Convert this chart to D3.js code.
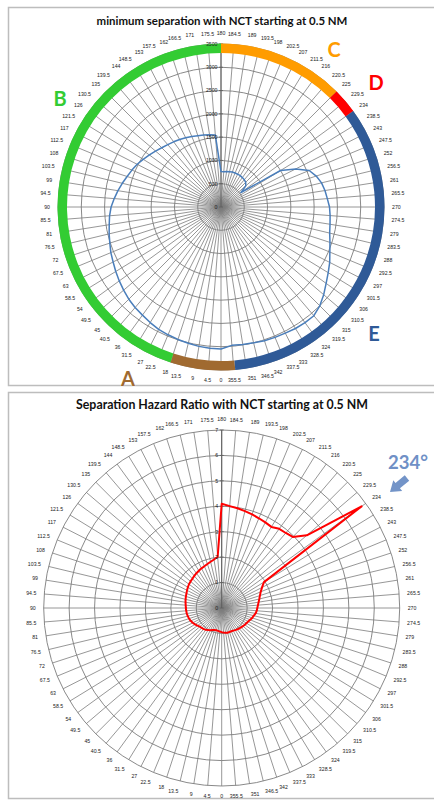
<!DOCTYPE html>
<html>
<head>
<meta charset="utf-8">
<script src="https://cdn.jsdelivr.net/npm/d3@7"></script>
<style>
  body { margin: 0; background: #ffffff; }
  svg { display: block; }
</style>
</head>
<body>
<svg id="chart" width="434" height="801"></svg>
<script>
// Relative bearing categories (degrees)
const categories = [
  0, 4.5, 9, 13.5, 18, 22.5, 27, 31.5, 36, 40.5, 45, 49.5, 54, 58.5, 63, 67.5,
  72, 76.5, 81, 85.5, 90, 94.5, 99, 103.5, 108, 112.5, 117, 121.5, 126, 130.5, 135, 139.5,
  144, 148.5, 153, 157.5, 162, 166.5, 171, 175.5, 180, 184.5, 189, 193.5, 198, 202.5, 207, 211.5,
  216, 220.5, 225, 229.5, 234, 238.5, 243, 247.5, 252, 256.5, 261, 265.5, 270, 274.5, 279, 283.5,
  288, 292.5, 297, 301.5, 306, 310.5, 315, 319.5, 324, 328.5, 333, 337.5, 342, 346.5, 351, 355.5
];

// Minimum separation (ft) per bearing
const minSeparation = [
  3050, 3040, 3030, 3010, 2990, 2970, 2950, 2910, 2870, 2840, 2800, 2750, 2700, 2650, 2600, 2560,
  2510, 2470, 2430, 2400, 2360, 2300, 2240, 2180, 2120, 2070, 2020, 1960, 1900, 1850, 1800, 1760,
  1730, 1700, 1670, 1640, 1610, 1590, 1570, 1550, 760, 760, 770, 780, 790, 790, 790, 790,
  780, 770, 750, 700, 530, 1500, 1800, 2050, 2150, 2220, 2260, 2290, 2330, 2350, 2370, 2400,
  2460, 2530, 2620, 2700, 2790, 2900, 3000, 3070, 3070, 3060, 3040, 3030, 3020, 3000, 2990, 2980
];

// Separation hazard ratio per bearing
const hazardRatio = [
  0.95, 0.93, 0.91, 0.90, 0.91, 0.94, 0.98, 1.02, 1.06, 1.09, 1.11, 1.13, 1.18, 1.23, 1.28, 1.32,
  1.35, 1.37, 1.39, 1.40, 1.41, 1.42, 1.44, 1.46, 1.48, 1.50, 1.53, 1.56, 1.59, 1.61, 1.63, 1.66,
  1.69, 1.72, 1.75, 1.78, 1.82, 1.87, 1.93, 2.02, 4.10, 4.02, 3.97, 3.92, 3.87, 3.82, 3.78, 3.74,
  3.85, 3.88, 3.95, 4.40, 6.80, 1.95, 1.78, 1.66, 1.58, 1.52, 1.47, 1.43, 1.40, 1.38, 1.35, 1.30,
  1.26, 1.21, 1.17, 1.14, 1.12, 1.10, 1.08, 1.06, 1.04, 1.02, 1.00, 0.99, 0.99, 1.00, 0.99, 0.97
];

const separationTicks = [0, 500, 1000, 1500, 2000, 2500, 3000, 3500];
const hazardTicks = [0, 1, 2, 3, 4, 5, 6, 7];

// Encounter sectors around the ring (bearing limits in degrees)
const sectorNames = ["A", "B", "C", "D", "E"];
const sectorFrom = [355, 18, 180, 225, 234];
const sectorTo = [378, 180, 225, 234, 355];

const titles = [
  "minimum separation with NCT starting at 0.5 NM",
  "Separation Hazard Ratio with NCT starting at 0.5 NM"
];
const peakLabel = "234°";

// ---- styling ----
const sectorColor = { A: "#a06a30", B: "#33cc33", C: "#ff9c00", D: "#ff0000", E: "#2f5a97" };
const letterPos = { A: [128, 379], B: [60, 99], C: [334, 50], D: [376, 83], E: [374, 334] };
const gridColor = "#7c7c7c";
const smallFont = "'Liberation Sans', Arial, sans-serif";
const titleFont = "Lato, 'Open Sans', sans-serif";

const svg = d3.select("#chart");
const fmtCat = d => Number.isInteger(d) ? String(d) : d.toFixed(1);

// panel frames
svg.append("rect").attr("x", 8.5).attr("y", 7.5).attr("width", 440).attr("height", 378)
  .attr("fill", "#fff").attr("stroke", "#bdbdbd").attr("stroke-width", 1.5);
svg.append("rect").attr("x", 8.5).attr("y", 392.5).attr("width", 440).attr("height", 406)
  .attr("fill", "#fff").attr("stroke", "#bdbdbd").attr("stroke-width", 1.5);

function fitText(sel, width) {
  const node = sel.node();
  const fs = parseFloat(sel.attr("font-size"));
  const w = node.getComputedTextLength();
  if (w > 0) sel.attr("font-size", (fs * width / w).toFixed(2));
  return sel;
}

function radar(opt) {
  const g = svg.append("g").attr("transform", `translate(${opt.cx},${opt.cy})`);
  const ang = d3.scaleLinear().domain([0, 360]).range([Math.PI, 3 * Math.PI]);
  const rad = d3.scaleLinear().domain([0, d3.max(opt.ticks)]).range([0, opt.R]);
  const R = opt.R;

  // spokes
  g.append("g").selectAll("line").data(categories).join("line")
    .attr("x1", 0).attr("y1", 0)
    .attr("x2", d => Math.sin(ang(d)) * R)
    .attr("y2", d => -Math.cos(ang(d)) * R)
    .attr("stroke", gridColor).attr("stroke-width", 0.8);

  // value rings
  g.append("g").selectAll("circle").data(opt.ticks.slice(1)).join("circle")
    .attr("r", d => rad(d)).attr("fill", "none")
    .attr("stroke", gridColor).attr("stroke-width", 0.9);

  // radial axis
  g.append("line").attr("x1", 0).attr("y1", 0).attr("x2", 0).attr("y2", -R)
    .attr("stroke", "#5e5e5e").attr("stroke-width", 1);
  g.append("g").selectAll("line").data(opt.ticks).join("line")
    .attr("x1", -2).attr("x2", 2).attr("y1", d => -rad(d)).attr("y2", d => -rad(d))
    .attr("stroke", "#5e5e5e").attr("stroke-width", 0.8);

  // series
  const line = d3.lineRadial()
    .angle((d, i) => ang(categories[i]))
    .radius(d => rad(d))
    .curve(d3.curveLinearClosed);
  g.append("path").datum(opt.values).attr("d", line)
    .attr("fill", "none").attr("stroke", opt.color).attr("stroke-width", opt.width)
    .attr("stroke-linejoin", "round");

  // sector ring
  if (opt.sectors) {
    const arc = d3.arc().innerRadius(opt.ringInner).outerRadius(opt.ringOuter);
    g.append("g").selectAll("path").data(sectorNames).join("path")
      .attr("d", (d, i) => arc({ startAngle: ang(sectorFrom[i]), endAngle: ang(sectorTo[i]) }))
      .attr("fill", d => sectorColor[d]);
  }

  // radial tick labels
  g.append("g").selectAll("text").data(opt.ticks).join("text")
    .attr("x", -3.5).attr("y", d => -rad(d)).attr("dy", "0.35em")
    .attr("text-anchor", "end").attr("font-family", smallFont).attr("font-size", 5.2)
    .attr("fill", "#222").text(d => d);

  // bearing labels
  g.append("g").selectAll("text").data(categories).join("text")
    .each(function (d) {
      const a = ang(d), s = Math.sin(a), c = -Math.cos(a);
      d3.select(this)
        .attr("x", s * opt.labelR).attr("y", c * opt.labelR)
        .attr("dy", (0.35 + c * 0.5).toFixed(2) + "em")
        .attr("text-anchor", Math.abs(s) < 0.08 ? "middle" : (s > 0 ? "start" : "end"));
    })
    .attr("font-family", smallFont).attr("font-size", 5.2).attr("fill", "#222")
    .text(fmtCat);
  return g;
}

// ---- top: minimum separation ----
fitText(svg.append("text").attr("x", 222).attr("y", 25).attr("text-anchor", "middle")
  .attr("font-family", titleFont).attr("font-weight", 700).attr("font-size", 11)
  .attr("fill", "#111").text(titles[0]), 251);

radar({
  cx: 221, cy: 207, R: 163, ticks: separationTicks, values: minSeparation,
  color: "#4a7ebb", width: 1.5, labelR: 171,
  sectors: true, ringInner: 154, ringOuter: 163.5
});

svg.append("g").selectAll("text").data(sectorNames).join("text")
  .attr("x", d => letterPos[d][0]).attr("y", d => letterPos[d][1]).attr("dy", "0.36em")
  .attr("text-anchor", "middle").attr("font-family", titleFont).attr("font-weight", 700)
  .attr("font-size", 20).attr("fill", d => sectorColor[d])
  .attr("stroke", "#ffffff").attr("stroke-width", 0.4).attr("paint-order", "stroke")
  .text(d => d);

// ---- bottom: hazard ratio ----
fitText(svg.append("text").attr("x", 222).attr("y", 409).attr("text-anchor", "middle")
  .attr("font-family", titleFont).attr("font-weight", 700).attr("font-size", 12)
  .attr("fill", "#111").text(titles[1]), 292);

radar({
  cx: 221.7, cy: 608, R: 178, ticks: hazardTicks, values: hazardRatio,
  color: "#ff0000", width: 2, labelR: 186
});

// peak bearing callout
fitText(svg.append("text").attr("x", 408).attr("y", 462).attr("dy", "0.36em")
  .attr("text-anchor", "middle").attr("font-family", titleFont).attr("font-weight", 700)
  .attr("font-size", 20).attr("fill", "#6f90c6").text(peakLabel), 40);

svg.append("path")
  .attr("d", "M0,0 L-10,-7 L-10,-3.5 L-22,-3.5 L-22,3.5 L-10,3.5 L-10,7 Z")
  .attr("transform", "translate(390,492) rotate(140.6)")
  .attr("fill", "#7394c8");
</script>
</body>
</html>
